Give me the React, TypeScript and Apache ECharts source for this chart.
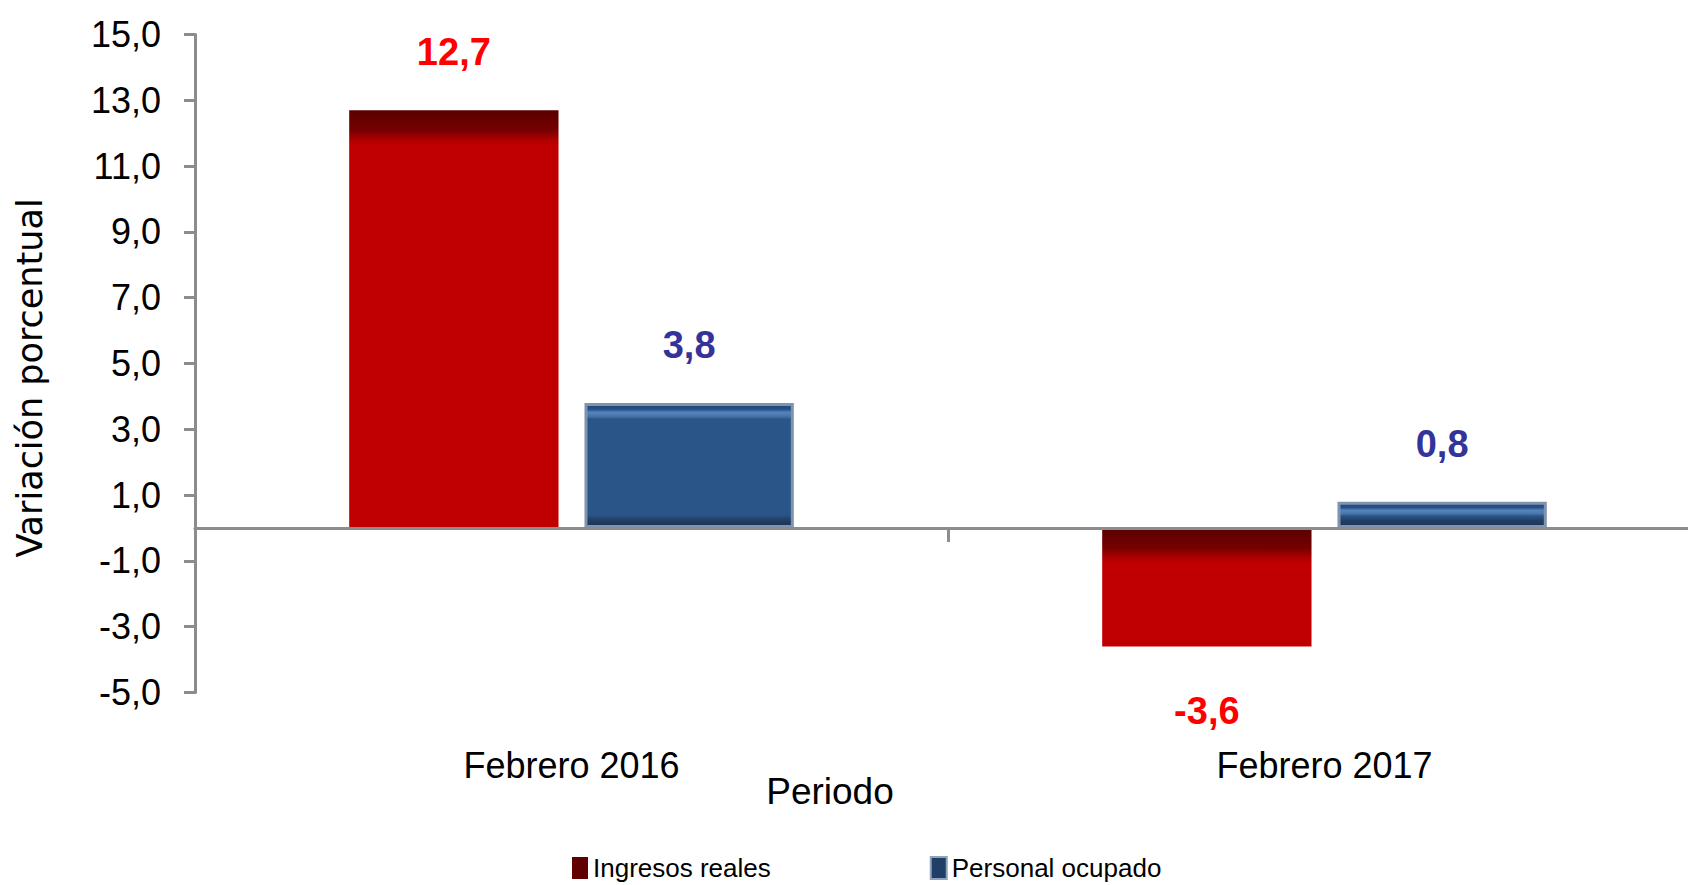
import React, { useEffect, useRef } from "react";
import * as echarts from "echarts";

const categories = ["Febrero 2016", "Febrero 2017"];
const ingresosReales = [12.7, -3.6];
const personalOcupado = [3.8, 0.8];
const yTicks = [-5, -3, -1, 1, 3, 5, 7, 9, 11, 13, 15];
const seriesNames = ["Ingresos reales", "Personal ocupado"];

const FONT = "'Liberation Sans', Arial, sans-serif";
const Y_MIN = -5;
const Y_MAX = 15;
const GRID_TOP = 34.5;
const GRID_BOTTOM = 192.5;
const PX_PER_UNIT = (885 - GRID_TOP - GRID_BOTTOM) / (Y_MAX - Y_MIN);

const fmt = (v: number) => v.toFixed(1).replace(".", ",");

type Stop = [number, string, boolean?]; // px, color, fromBottom

function grad(value: number, stops: Stop[]) {
  const h = Math.max(1, Math.abs(value) * PX_PER_UNIT);
  const list = stops.map(([px, color, fromBottom]) => {
    let off = fromBottom ? 1 - px / h : px / h;
    off = Math.min(1, Math.max(0, off));
    return { offset: off, color };
  });
  list.sort((a, b) => a.offset - b.offset);
  return new echarts.graphic.LinearGradient(0, 0, 0, 1, list);
}

const redStops: Stop[] = [
  [0, "#5a0000"],
  [20, "#760000"],
  [30, "#b00000"],
  [36, "#c00000"],
  [0, "#c00000", true],
];

const blueStops: Stop[] = [
  [0, "#1f4677"],
  [5, "#26508a"],
  [8, "#5583bb"],
  [12, "#4a75ab"],
  [15, "#2a5588"],
  [12, "#2a5588", true],
  [7, "#243f66", true],
  [0, "#1c3354", true],
];

export default function App() {
  const ref = useRef<HTMLDivElement>(null);

  useEffect(() => {
    if (!ref.current) return;
    const chart = echarts.init(ref.current, null, { renderer: "svg" });

    const labelBase = {
      show: true,
      fontFamily: FONT,
      fontSize: 38,
      fontWeight: "bold" as const,
      formatter: (p: any) => fmt(p.value),
    };

    chart.setOption({
      animation: false,
      backgroundColor: "#ffffff",
      grid: {
        left: 195,
        top: GRID_TOP,
        bottom: GRID_BOTTOM,
        right: 0,
        containLabel: false,
      },
      legend: {
        left: 567,
        top: 850,
        itemWidth: 16,
        itemHeight: 22,
        itemGap: 159,
        icon: "rect",
        textStyle: { fontFamily: FONT, fontSize: 26, color: "#000" },
        data: [
          { name: seriesNames[0], itemStyle: { color: "#600000" } },
          {
            name: seriesNames[1],
            itemStyle: { color: "#1f3f66", borderColor: "#8fa3bd", borderWidth: 2 },
          },
        ],
      },
      xAxis: [
        {
          type: "category",
          data: categories,
          position: "bottom",
          z: 5,
          axisLine: { show: true, onZero: true, lineStyle: { color: "#8c8c8c", width: 3 } },
          axisTick: { show: true, length: 14, lineStyle: { color: "#8c8c8c", width: 3 } },
          axisLabel: { show: false },
          splitLine: { show: false },
        },
        {
          type: "category",
          data: categories,
          position: "bottom",
          axisLine: { show: false, onZero: false },
          axisTick: { show: false },
          axisLabel: {
            show: true,
            margin: 55,
            fontFamily: FONT,
            fontSize: 36,
            color: "#000",
          },
          splitLine: { show: false },
        },
      ],
      yAxis: {
        type: "value",
        min: Y_MIN,
        max: Y_MAX,
        axisLine: { show: true, lineStyle: { color: "#8c8c8c", width: 3 } },
        axisTick: {
          show: true,
          length: 11,
          customValues: yTicks,
          lineStyle: { color: "#8c8c8c", width: 3 },
        },
        axisLabel: {
          customValues: yTicks,
          formatter: (v: number) => fmt(v),
          fontFamily: FONT,
          fontSize: 36,
          color: "#000",
          margin: 34,
        },
        splitLine: { show: false },
      },
      graphic: [
        {
          type: "text",
          x: 30,
          y: 378,
          rotation: Math.PI / 2,
          style: {
            text: "Variación porcentual",
            fontFamily: "'DejaVu Sans', 'Liberation Sans', sans-serif",
            fontSize: 35,
            fill: "#000",
            align: "center",
            verticalAlign: "middle",
          },
        },
        {
          type: "text",
          x: 830,
          y: 791,
          style: {
            text: "Periodo",
            fontFamily: FONT,
            fontSize: 37,
            fill: "#000",
            align: "center",
            verticalAlign: "middle",
          },
        },
      ],
      series: [
        {
          name: seriesNames[0],
          type: "bar",
          xAxisIndex: 0,
          barWidth: "27.8%",
          barGap: "12.4%",
          data: ingresosReales.map((v) => ({
            value: v,
            itemStyle: { color: grad(v, redStops) },
            label: { position: v < 0 ? "bottom" : "top", distance: v < 0 ? 46 : 39 },
          })),
          label: { ...labelBase, color: "#FF0000" },
        },
        {
          name: seriesNames[1],
          type: "bar",
          xAxisIndex: 0,
          barWidth: "27.8%",
          barGap: "12.4%",
          data: personalOcupado.map((v) => ({
            value: v,
            itemStyle: { color: grad(v, blueStops), borderColor: "#8094ae", borderWidth: 3 },
            label: { position: v < 0 ? "bottom" : "top", distance: v < 0 ? 46 : 39 },
          })),
          label: { ...labelBase, color: "#333399" },
        },
      ],
    });

    return () => chart.dispose();
  }, []);

  return (
    <div
      style={{
        position: "fixed",
        left: 0,
        top: 0,
        width: 1688,
        height: 885,
        overflow: "hidden",
        background: "#fff",
      }}
    >
      <div ref={ref} style={{ width: 1701, height: 885 }} />
    </div>
  );
}
